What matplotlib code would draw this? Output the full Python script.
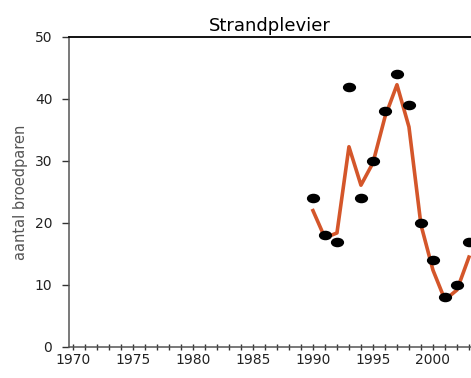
import matplotlib
matplotlib.use("Agg")
import matplotlib.pyplot as plt
from matplotlib.path import Path
from matplotlib.transforms import Affine2D
from matplotlib.ticker import MultipleLocator

# waarnemingen (zwarte punten) en trendlijn
jaren = [1990, 1991, 1992, 1993, 1994, 1995, 1996, 1997, 1998, 1999, 2000, 2001, 2002, 2003]
aantal = [24, 18, 17, 42, 24, 30, 38, 44, 39, 20, 14, 8, 10, 17]
trend = [22, 17.6, 18.4, 32.3, 26.1, 29.7, 37.1, 42.3, 35.5, 19.7, 12.4, 7.6, 9.2, 14.5]

fig = plt.figure(figsize=(4.71, 3.78), dpi=100)
ax = fig.add_axes([69 / 471, 31 / 378, 402 / 471, 310 / 378])

ax.plot(jaren, trend, color='#d4562a', lw=2.6, zorder=2)
ellips = Path.unit_circle().transformed(Affine2D().scale(1.45, 1.0))
ax.plot(jaren, aantal, ls='none', marker=ellips, ms=8.5, color='black', zorder=3)

ax.set_xlim(1969.67, 2003.17)
ax.set_ylim(0, 50)
ax.xaxis.set_major_locator(MultipleLocator(5))
ax.xaxis.set_minor_locator(MultipleLocator(1))
ax.yaxis.set_major_locator(MultipleLocator(10))

ax.spines['right'].set_visible(False)
ax.spines['top'].set_color('black')
ax.spines['top'].set_linewidth(1.3)
for s in ['left', 'bottom']:
    ax.spines[s].set_color('#555555')
    ax.spines[s].set_linewidth(1.1)

ax.tick_params(axis='x', which='both', direction='inout', length=5, width=1,
               color='#333333', labelsize=10, labelcolor='#222222', pad=2)
ax.tick_params(axis='y', direction='out', length=5, width=1, color='#333333',
               labelsize=10, labelcolor='#222222', pad=7)

ax.set_ylabel('aantal broedparen', fontsize=10.5, color='#555555', labelpad=5)
ax.set_title('Strandplevier', fontsize=13, pad=4, x=(270 - 69) / 402)

fig.savefig('out.png', dpi=100)
